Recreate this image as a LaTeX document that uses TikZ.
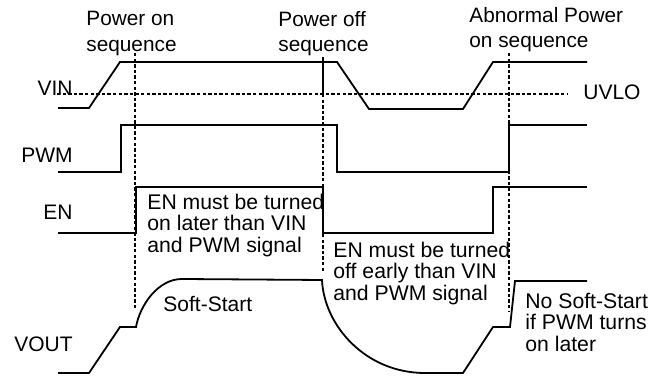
\documentclass[tikz,border=0pt]{standalone}
\usepackage{fontspec}
\setmainfont{Liberation Sans}
\begin{document}
\begin{tikzpicture}[
    x=0.5pt,y=-0.5pt,
    wave/.style={line width=0.9pt,line join=miter},
    marker/.style={line width=1.4pt,dash pattern=on 1.7pt off 1.1pt},
    sig/.style={inner sep=0pt,font=\fontsize{10.5}{12}\selectfont},
    note/.style={anchor=north west,inner sep=0pt,align=left,font=\fontsize{10.6}{10.6}\selectfont},
    phase/.style={anchor=north west,inner sep=0pt,align=left,font=\fontsize{10.4}{12.7}\selectfont}
]
\useasboundingbox (0,0) rectangle (665,378);
% phases
\node[phase] (pon) at (86,11) {Power on\\sequence};
\node[phase] (poff) at (278,11) {Power off\\sequence};
\node[phase] (pabn) at (469,7) {Abnormal Power\\on sequence};
% signal names
\node[sig,anchor=east] (vin) at (73,88.5) {VIN};
\node[sig,anchor=east] (pwm) at (73,155) {PWM};
\node[sig,anchor=east] (en) at (73,212) {EN};
\node[sig,anchor=east] (vout) at (73,344.5) {VOUT};
\node[sig,anchor=west] (uvlo) at (583,92) {UVLO};
% notes
\node[note] (enon) at (147,194) {EN must be turned\\on later than VIN\\and PWM signal};
\node[sig,anchor=base west] (ss) at (163,312) {Soft-Start};
\node[note] (enoff) at (333,242) {EN must be turned\\off early than VIN\\and PWM signal};
\node[note] (noss) at (525,293) {No Soft-Start\\if PWM turns\\on later};
% markers
\draw[marker] (57,94) -- (568,94);
\draw[marker] (135,53) -- (135,310);
\draw[marker] (323,94) -- (323,272);
\draw[line width=1.2pt] (323,57) -- (323,94);
\draw[marker] (509,53) -- (509,312);
% waveforms
\draw[wave] (58,108) -- (89,108) -- (120,62) -- (337,62) -- (369,109) -- (463,109) -- (493,62) -- (587,62);
\draw[wave] (58,172) -- (121,172) -- (121,125) -- (337,125) -- (337,172) -- (509,172) -- (509,125) -- (587,125);
\draw[wave] (58,233) -- (136,233) -- (136,187) -- (323,187) -- (323,233) -- (493,233) -- (493,187) -- (587,187);
\draw[wave] (58,373) -- (89,373) -- (120,327) -- (136,327)
    .. controls (140,305) and (158,279) .. (182,279) -- (322,280)
    .. controls (324,325) and (365,373) .. (425,373) -- (463,373)
    -- (493,327) -- (510,327) -- (515,281) -- (587,281);
\end{tikzpicture}
\end{document}
